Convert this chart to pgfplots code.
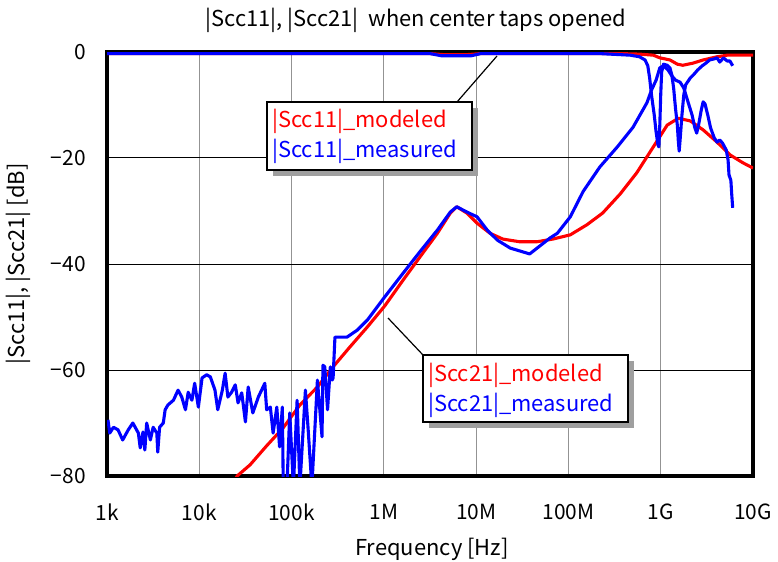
\documentclass[border=0pt]{standalone}
\usepackage{fontspec}
\setmainfont{Noto Sans CJK JP}
\usepackage{pgfplots}
\pgfplotsset{compat=1.18}
\definecolor{myred}{RGB}{255,0,0}
\definecolor{myblue}{RGB}{0,0,255}
\newcommand{\fs}{\fontsize{22}{25}\selectfont}
\newcommand{\fst}{\fontsize{21}{24}\selectfont}
\begin{document}
\begin{tikzpicture}
\begin{axis}[
 at={(0,0)}, anchor=south west,
 scale only axis, width=646bp, height=424bp,
 xmin=3, xmax=10, ymin=-80, ymax=0,
 xtick={3,4,5,6,7,8,9,10}, xticklabels={1k,10k,100k,1M,10M,100M,1G,10G},
 ytick={-80,-60,-40,-20,0}, yticklabels={−80,−60,−40,−20,0},
 major tick length=0pt,
 xmajorgrids, ymajorgrids,
 x grid style={gray!85, line width=1bp},
 y grid style={black, line width=1bp},
 axis line style={line width=3.4bp},
 tick label style={font=\fst},
 xticklabel style={anchor=center, yshift=-36bp},
 yticklabel style={anchor=east, inner sep=0pt, xshift=-21bp},
 every axis plot/.append style={line width=3.1bp, line join=round, no marks},
]
% |Scc11| modeled
\addplot[myred] coordinates {
(3,-0.3) (6.5,-0.3) (6.65,-0.5) (6.9,-0.5) (7.05,-0.3) (8.4,-0.3) (8.56,-0.3) (8.77,-0.4) (8.92,-0.6) (8.99,-1.1) (9.10,-1.5) (9.18,-2.3) (9.24,-2.5) (9.35,-2.1) (9.46,-1.5) (9.61,-0.9) (9.72,-0.6) (9.86,-0.6) (10,-0.6)
};
% |Scc21| modeled
\addplot[myred] coordinates {
(4.38,-81) (4.41,-80) (4.55,-77.9) (4.73,-74.3) (4.91,-70.9) (5.09,-66.6) (5.28,-63.2) (5.45,-59.4) (5.63,-55.7) (5.82,-51.9) (6.01,-47.9) (6.21,-43.0) (6.39,-38.7) (6.58,-34.2) (6.72,-30.4) (6.79,-29.2) (6.90,-30.4) (7.01,-32.3) (7.15,-34.2) (7.29,-35.3) (7.47,-35.8) (7.66,-35.8) (7.83,-35.3) (8.02,-34.5) (8.20,-32.6) (8.37,-30.4) (8.56,-26.8) (8.74,-22.8) (8.92,-17.9) (9.07,-13.8) (9.19,-12.5) (9.32,-13.0) (9.46,-14.7) (9.61,-17.0) (9.75,-19.4) (9.89,-20.9) (10,-21.9)
};
% |Scc11| measured
\addplot[myblue] coordinates {
(3,-0.3) (6.5,-0.3) (6.62,-0.7) (6.95,-0.7) (7.05,-0.3) (8.2,-0.3) (8.34,-0.3) (8.67,-0.6) (8.77,-0.9) (8.83,-1.5) (8.86,-2.6) (8.88,-4.9) (8.90,-8.1) (8.93,-11.9) (8.95,-15.1) (8.97,-17.5) (8.98,-17.9) (8.99,-13.8) (9.00,-8.1) (9.01,-3.8) (9.03,-2.3) (9.07,-2.5) (9.10,-3.0) (9.12,-4.3) (9.14,-6.8) (9.16,-10.6) (9.18,-13.8) (9.19,-16.6) (9.20,-18.7) (9.21,-16.6) (9.23,-11.9) (9.25,-8.1) (9.27,-6.2) (9.32,-4.9) (9.36,-4.2) (9.40,-3.4) (9.45,-2.6) (9.49,-2.1) (9.53,-1.5) (9.58,-1.3) (9.61,-1.1) (9.64,-1.9) (9.66,-1.5) (9.68,-1.1) (9.72,-1.7) (9.75,-1.7) (9.78,-2.6)
};
% |Scc21| measured
\addplot[myblue] coordinates {
(3.01,-69.4) (3.03,-71.9) (3.07,-70.8) (3.12,-71.3) (3.17,-73.2) (3.23,-71.3) (3.28,-70.0) (3.34,-71.9) (3.36,-74.7) (3.39,-71.7) (3.41,-75.1) (3.43,-70.0) (3.47,-73.2) (3.50,-70.8) (3.54,-71.9) (3.55,-75.5) (3.57,-70.8) (3.61,-70.0) (3.63,-67.5) (3.66,-66.6) (3.72,-65.7) (3.77,-63.8) (3.81,-65.1) (3.85,-67.5) (3.88,-64.2) (3.92,-65.7) (3.95,-62.5) (3.99,-67.0) (4.03,-61.5) (4.08,-60.9) (4.12,-61.3) (4.17,-63.8) (4.20,-67.5) (4.25,-63.8) (4.28,-60.6) (4.31,-65.1) (4.35,-64.2) (4.39,-62.8) (4.42,-66.2) (4.46,-64.3) (4.50,-69.8) (4.53,-63.2) (4.58,-68.1) (4.64,-65.1) (4.71,-62.5) (4.73,-67.5) (4.77,-67.0) (4.80,-71.9) (4.84,-67.0) (4.87,-74.5) (4.90,-67.0) (4.91,-82) (4.95,-82) (4.98,-68.1) (5.02,-82) (5.06,-65.7) (5.09,-82) (5.15,-63.8) (5.18,-71.3) (5.22,-82) (5.28,-61.9) (5.33,-72.6) (5.34,-59.1) (5.36,-59.4) (5.39,-67.5) (5.42,-59.4) (5.44,-61.9) (5.45,-61.5) (5.47,-53.8) (5.49,-53.8) (5.60,-53.8) (5.71,-52.5) (5.82,-50.6) (6.01,-46.2) (6.21,-41.7) (6.39,-37.7) (6.58,-33.6) (6.72,-30.2) (6.79,-29.2) (6.90,-30.2) (7.01,-31.1) (7.12,-33.6) (7.23,-35.5) (7.37,-37.0) (7.58,-38.1) (7.80,-35.1) (7.88,-34.2) (8.02,-31.1) (8.16,-26.3) (8.34,-21.7) (8.53,-17.9) (8.70,-14.2) (8.85,-9.6) (8.90,-7.2) (8.95,-5.3) (8.99,-3.0) (9.03,-2.6) (9.08,-3.4) (9.12,-4.5) (9.16,-5.3) (9.21,-5.7) (9.25,-6.8) (9.29,-9.1) (9.34,-11.9) (9.37,-14.3) (9.39,-15.3) (9.41,-13.8) (9.44,-10.9) (9.46,-9.4) (9.48,-9.8) (9.51,-11.9) (9.54,-14.3) (9.58,-16.2) (9.61,-17.0) (9.64,-16.6) (9.67,-17.2) (9.71,-18.5) (9.73,-20.4) (9.74,-23.2) (9.76,-24.2) (9.77,-27.0) (9.78,-29.4)
};
\end{axis}
% titles and labels
\node[font=\fs] at (309bp,456bp) {|Scc11|, |Scc21|\ \ when center taps opened};
\node[font=\fs, rotate=90] at (-89bp,212bp) {|Scc11|, |Scc21| [dB]};
\node[font=\fs] at (325bp,-73bp) {Frequency [Hz]};
% callout 1
\draw[line width=1.2bp] (350bp,374bp) -- (390bp,420bp);
\fill[gray!75] (166bp,300bp) rectangle (371bp,368bp);
\draw[line width=1.5bp, fill=white] (160bp,306bp) rectangle (365bp,374bp);
\node[font=\fs, anchor=west, text=myred, inner sep=2bp] at (163bp,355bp) {|Scc11|\_modeled};
\node[font=\fs, anchor=west, text=myblue, inner sep=2bp] at (163bp,325bp) {|Scc11|\_measured};
% callout 2
\draw[line width=1.2bp] (316bp,121bp) -- (281bp,158bp);
\fill[gray!75] (322bp,48bp) rectangle (527bp,115bp);
\draw[line width=1.5bp, fill=white] (316bp,54bp) rectangle (521bp,121bp);
\node[font=\fs, anchor=west, text=myred, inner sep=2bp] at (319bp,101bp) {|Scc21|\_modeled};
\node[font=\fs, anchor=west, text=myblue, inner sep=2bp] at (319bp,71bp) {|Scc21|\_measured};
\pgfresetboundingbox
\path (-107bp,-86bp) rectangle (671bp,476bp);
\end{tikzpicture}
\end{document}
